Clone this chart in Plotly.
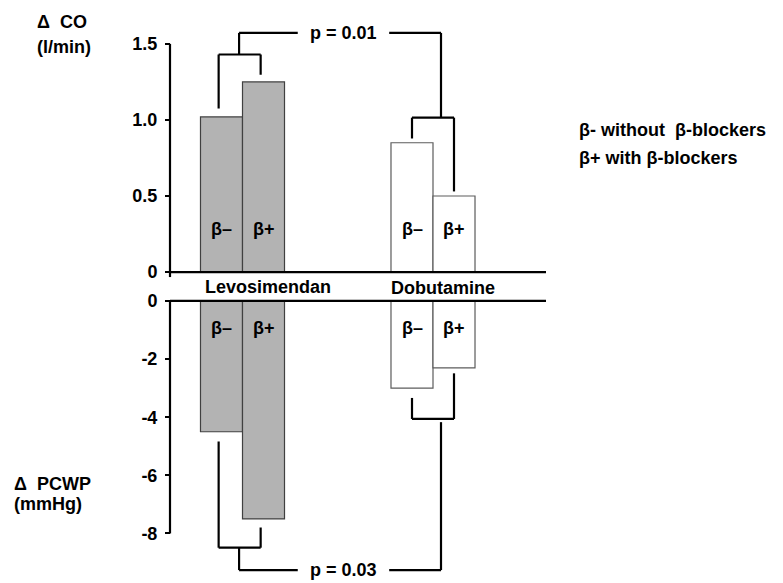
import plotly.graph_objects as go

# ---- data ----------------------------------------------------------------
drugs = ["Levosimendan", "Dobutamine"]
group_labels = ["β–", "β+"]                 # without / with beta-blockers
co_without = [1.02, 0.85]                   # Δ CO (l/min), β–
co_with = [1.25, 0.50]                      # Δ CO (l/min), β+
pcwp_without = [-4.5, -3.0]                 # Δ PCWP (mmHg), β–
pcwp_with = [-7.5, -2.3]                    # Δ PCWP (mmHg), β+
co_tickvals = [0, 0.5, 1.0, 1.5]
co_ticktext = ["0", "0.5", "1.0", "1.5"]
pcwp_tickvals = [0, -2, -4, -6, -8]
pcwp_ticktext = ["0", "-2", "-4", "-6", "-8"]
p_co = "p = 0.01"
p_pcwp = "p = 0.03"
legend_lines = ["β- without  β-blockers", "β+ with β-blockers"]

# ---- styling -------------------------------------------------------------
W, H = 783, 583
FONT = "Liberation Sans, Arial, sans-serif"
FS = 18
fills = ["#b3b3b3", "#ffffff"]
edges = ["#404040", "#5c5c5c"]
LW = 2.2


def bold(size=FS):
    return dict(family=FONT, size=size, color="black", weight="bold")


def fx(px):
    return px / W


def fy(px):
    return 1 - px / H


# horizontal layout: category spacing and position of the first group
spacing_px, first_px = 190.5, 242.5
x_range = [-first_px / spacing_px, (W - first_px) / spacing_px]
bar_w = 0.2205                      # width of one bar in category units
off = bar_w / 2                     # bar centre offset from group centre

# vertical layout of the two panels
top_zero, top_max = 271, 42         # pixel rows of 0 and 1.5
k_top = (top_zero - top_max) / 1.5
top_dom = (10, 283)
bot_zero, bot_min = 300, 533.3      # pixel rows of 0 and -8
k_bot = (bot_min - bot_zero) / 8
bot_dom = (292, 583)

fig = go.Figure()

for vals_minus, vals_plus, yax in [(co_without, co_with, "y"),
                                   (pcwp_without, pcwp_with, "y2")]:
    for vals, name in [(vals_minus, group_labels[0]), (vals_plus, group_labels[1])]:
        fig.add_trace(go.Bar(
            x=drugs, y=vals, name=name, yaxis=yax, xaxis="x",
            marker=dict(color=fills, line=dict(color=edges, width=1.2)),
            showlegend=False, hoverinfo="x+y+name",
        ))

axis_common = dict(
    anchor="free", position=fx(170), showgrid=False, zeroline=False,
    showline=False, ticks="outside", ticklen=5, tickwidth=2, tickcolor="black",
    tickfont=bold(), ticklabelstandoff=4,
)

fig.update_layout(
    width=W, height=H, margin=dict(l=0, r=0, t=0, b=0),
    paper_bgcolor="white", plot_bgcolor="white",
    barmode="group", bargap=1 - 2 * bar_w, bargroupgap=0,
    font=bold(),
    xaxis=dict(domain=[0, 1], range=x_range, visible=False, anchor="y"),
    yaxis=dict(
        domain=[fy(top_dom[1]), fy(top_dom[0])],
        range=[(top_zero - top_dom[1]) / k_top, (top_zero - top_dom[0]) / k_top],
        tickvals=co_tickvals, ticktext=co_ticktext, **axis_common,
    ),
    yaxis2=dict(
        domain=[fy(bot_dom[1]), fy(bot_dom[0])],
        range=[(bot_zero - bot_dom[1]) / k_bot, (bot_zero - bot_dom[0]) / k_bot],
        tickvals=pcwp_tickvals, ticktext=pcwp_ticktext, **axis_common,
    ),
)

shapes = []


def seg(x0, y0, x1, y1, xref="x", yref="y", width=LW):
    shapes.append(dict(type="line", x0=x0, y0=y0, x1=x1, y1=y1,
                       xref=xref, yref=yref,
                       line=dict(color="black", width=width)))


# axis lines and zero baselines
seg(fx(170), -5 / k_top, fx(170), 1.5, xref="paper", yref="y")
seg(fx(170), 0, fx(546), 0, xref="paper", yref="y")
seg(fx(170), 0, fx(170), -8, xref="paper", yref="y2")
seg(fx(170), 0, fx(546), 0, xref="paper", yref="y2")

# significance brackets, Δ CO panel
p_mid, gap = 0.53, 0.24
lev_l, lev_r, lev_c = 0 - off - 0.015, 0 + off - 0.015, -0.018
dob_l, dob_r, dob_c = 1 - off, 1 + off, 1.042
seg(lev_l, co_without[0] + 0.055, lev_l, 1.43)
seg(lev_r, co_with[0] + 0.047, lev_r, 1.43)
seg(lev_l, 1.43, lev_r, 1.43)
seg(lev_c, 1.43, lev_c, 1.572)
seg(lev_c, 1.572, p_mid - gap, 1.572)
seg(p_mid + gap, 1.572, dob_c, 1.572)
seg(dob_c, 1.572, dob_c, 1.015)
seg(dob_l, 1.015, dob_r, 1.015)
seg(dob_l, 1.015, dob_l, co_without[1] + 0.028)
seg(dob_r, 1.015, dob_r, co_with[1] + 0.03)

# significance brackets, Δ PCWP panel
seg(lev_l, pcwp_without[0] - 0.335, lev_l, -8.49, yref="y2")
seg(lev_r, pcwp_with[0] - 0.295, lev_r, -8.49, yref="y2")
seg(lev_l, -8.49, lev_r, -8.49, yref="y2")
seg(lev_c, -8.49, lev_c, -9.26, yref="y2")
seg(lev_c, -9.26, p_mid - gap, -9.26, yref="y2")
seg(p_mid + gap, -9.26, dob_c, -9.26, yref="y2")
seg(dob_c, -9.26, dob_c, -4.17, yref="y2")
seg(dob_l, -4.06, dob_r, -4.06, yref="y2")
seg(dob_l, -4.06, dob_l, pcwp_without[1] - 0.337, yref="y2")
seg(dob_r, -4.06, dob_r, pcwp_with[1] - 0.19, yref="y2")

fig.update_layout(shapes=shapes)

ann = []


def text(t, x, y, xref="x", yref="y", xanchor="center", size=FS):
    ann.append(dict(text=t, x=x, y=y, xref=xref, yref=yref, xanchor=xanchor,
                    yanchor="middle", showarrow=False, font=bold(size)))


# β labels inside the bars
for i in range(len(drugs)):
    for j, lab in enumerate(group_labels):
        xc = i + (-off if j == 0 else off)
        text(lab, xc, 0.28)
        text(lab, xc, -0.915, yref="y2")

# p values on the bracket lines
text(p_co, p_mid, 1.572)
text(p_pcwp, p_mid, -9.26, yref="y2")

# drug names between the panels
text(drugs[0], 0.134, fy(286), yref="paper")
text(drugs[1], 1.05, fy(287), yref="paper")

# axis titles
text("Δ  CO", fx(35), fy(20), xref="paper", yref="paper", xanchor="left")
text("(l/min)", fx(35), fy(45), xref="paper", yref="paper", xanchor="left")
text("Δ  PCWP", fx(12), fy(484), xref="paper", yref="paper", xanchor="left")
text("(mmHg)", fx(12), fy(504), xref="paper", yref="paper", xanchor="left")

# key for the β labels
text(legend_lines[0], fx(577), fy(128), xref="paper", yref="paper", xanchor="left")
text(legend_lines[1], fx(577), fy(157), xref="paper", yref="paper", xanchor="left")

fig.update_layout(annotations=ann)

fig.write_html("out.html")
